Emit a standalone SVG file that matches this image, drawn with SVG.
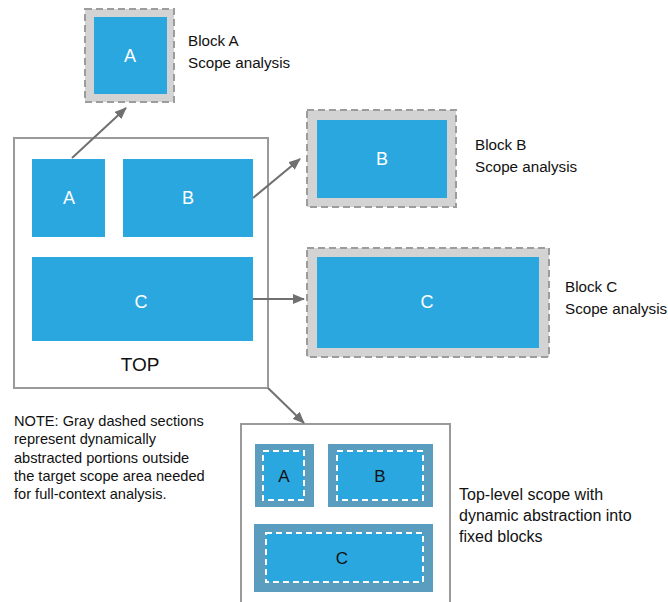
<svg xmlns="http://www.w3.org/2000/svg" width="668" height="602" viewBox="0 0 668 602">
<defs>
<style>
text{font-family:"Liberation Sans",Arial,sans-serif}
.blue{fill:#2aa7df}
.abs{fill:#d3d3d3;stroke:#9c9c9c;stroke-width:2;stroke-dasharray:7 4}
.frame{fill:#fff;stroke:#9a9a9a;stroke-width:2}
.lbl{fill:#fff;font-size:18px;text-anchor:middle}
.dlbl{fill:#111;font-size:17px;text-anchor:middle}
.cap{fill:#111;font-size:15.2px}
.note{fill:#111;font-size:14.6px}
.fix{fill:#5a9dbf}
.wd{fill:#2aa7df;stroke:#fff;stroke-width:2;stroke-dasharray:6 4}
.conn{stroke:#707070;stroke-width:2;fill:none;marker-end:url(#ah)}
</style>
<marker id="ah" viewBox="0 0 12 10" refX="11" refY="5" markerWidth="12" markerHeight="10" markerUnits="userSpaceOnUse" orient="auto">
<path d="M0,0 L12,5 L0,10 Z" fill="#707070"/>
</marker>
</defs>
<g id="top">
<rect class="frame" x="14" y="138" width="254" height="250"/>
<text x="140" y="371" style="fill:#111;font-size:19px;text-anchor:middle">TOP</text>
</g>
<g id="top-a">
<rect class="blue" x="32" y="159" width="73" height="78"/>
<text class="lbl" x="69" y="204">A</text>
</g>
<g id="top-b">
<rect class="blue" x="123" y="159" width="130" height="78"/>
<text class="lbl" x="188" y="204">B</text>
</g>
<g id="top-c">
<rect class="blue" x="32" y="257" width="221" height="84"/>
<text class="lbl" x="141" y="308">C</text>
</g>
<g id="block-a">
<rect class="abs" x="85" y="9" width="89" height="93"/>
<rect class="blue" x="94" y="17" width="73" height="77"/>
<text class="lbl" x="130" y="62">A</text>
<text class="cap" x="188" y="46">Block A</text>
<text class="cap" x="188" y="68">Scope analysis</text>
</g>
<g id="block-b">
<rect class="abs" x="307" y="110" width="149" height="97"/>
<rect class="blue" x="317" y="120" width="130" height="78"/>
<text class="lbl" x="382" y="165">B</text>
<text class="cap" x="475" y="150">Block B</text>
<text class="cap" x="475" y="172">Scope analysis</text>
</g>
<g id="block-c">
<rect class="abs" x="307" y="248" width="242" height="109"/>
<rect class="blue" x="317" y="257" width="222" height="91"/>
<text class="lbl" x="427" y="308">C</text>
<text class="cap" x="565" y="292">Block C</text>
<text class="cap" x="565" y="314">Scope analysis</text>
</g>
<g id="note">
<text class="note" x="14" y="426">NOTE: Gray dashed sections</text>
<text class="note" x="14" y="444">represent dynamically</text>
<text class="note" x="14" y="463">abstracted portions outside</text>
<text class="note" x="14" y="481">the target scope area needed</text>
<text class="note" x="14" y="499">for full-context analysis.</text>
</g>
<g id="fixed-top">
<rect class="frame" x="241" y="424" width="209" height="190"/>
<text class="cap" x="459" y="500" style="font-size:16px">Top-level scope with</text>
<text class="cap" x="459" y="521" style="font-size:16px">dynamic abstraction into</text>
<text class="cap" x="459" y="542" style="font-size:16px">fixed blocks</text>
</g>
<g id="fixed-a">
<rect class="fix" x="255" y="444" width="59" height="63"/>
<rect class="wd" x="263" y="451" width="41" height="49"/>
<text class="dlbl" x="284" y="482">A</text>
</g>
<g id="fixed-b">
<rect class="fix" x="328" y="444" width="105" height="63"/>
<rect class="wd" x="337" y="451" width="86" height="49"/>
<text class="dlbl" x="380" y="482">B</text>
</g>
<g id="fixed-c">
<rect class="fix" x="254" y="524" width="179" height="68"/>
<rect class="wd" x="266" y="533" width="157" height="49"/>
<text class="dlbl" x="342" y="564">C</text>
</g>
<g id="connectors">
<line class="conn" x1="72" y1="158" x2="126" y2="108"/>
<line class="conn" x1="253" y1="198" x2="300" y2="159"/>
<line class="conn" x1="253" y1="299" x2="304" y2="299"/>
<line class="conn" x1="268" y1="388" x2="304" y2="423"/>
</g>
</svg>
